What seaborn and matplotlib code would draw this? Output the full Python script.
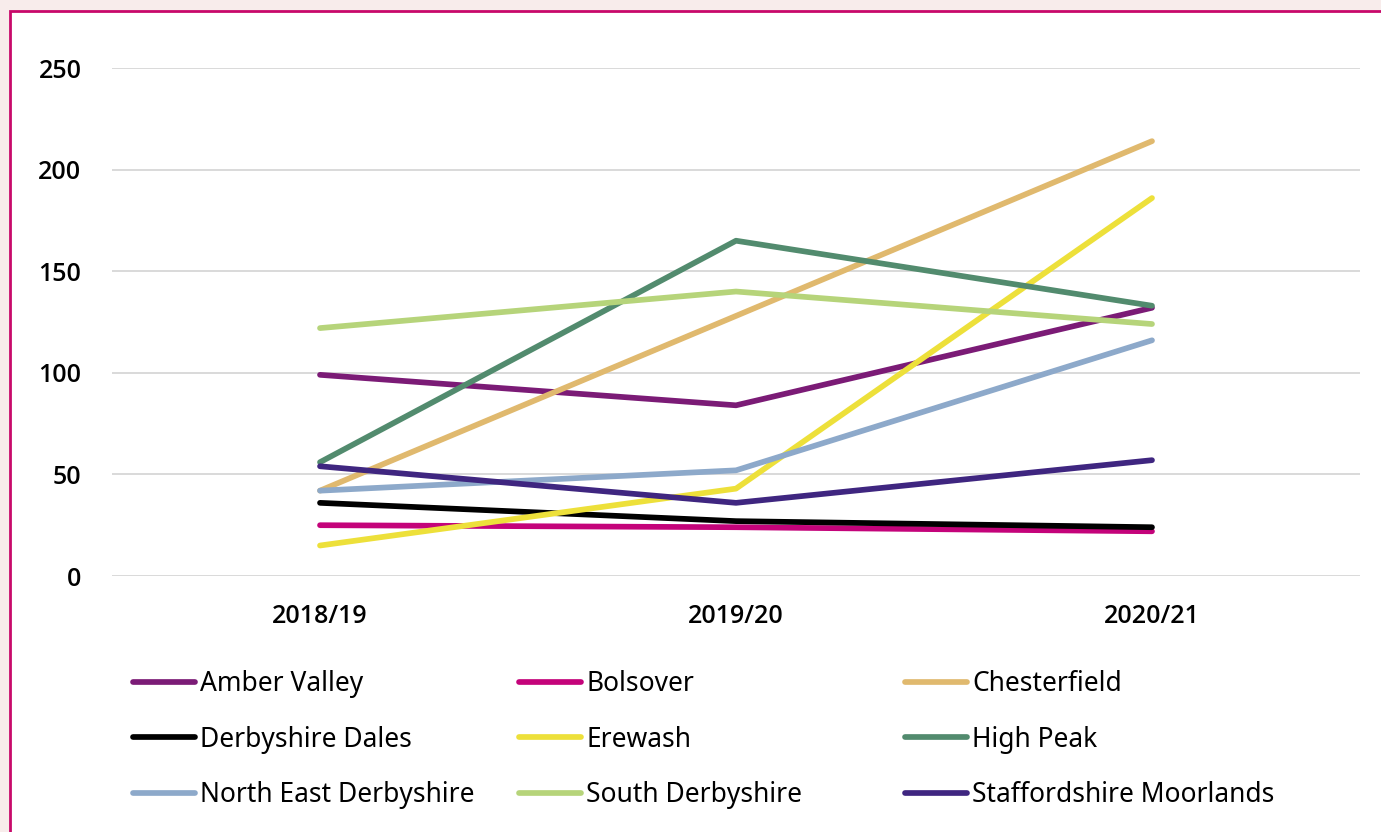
import matplotlib
matplotlib.use("Agg")
import matplotlib.pyplot as plt
import matplotlib.patches as mpatches
import seaborn as sns
import pandas as pd

# data
years = ["2018/19", "2019/20", "2020/21"]
areas = ["Amber Valley", "Bolsover", "Chesterfield",
         "Derbyshire Dales", "Erewash", "High Peak",
         "North East Derbyshire", "South Derbyshire", "Staffordshire Moorlands"]
y_ticks = [0, 50, 100, 150, 200, 250]
amber_valley = [99, 84, 132]
bolsover = [25, 24, 22]
chesterfield = [42, 128, 214]
derbyshire_dales = [36, 27, 24]
erewash = [15, 43, 186]
high_peak = [56, 165, 133]
north_east_derbyshire = [42, 52, 116]
south_derbyshire = [122, 140, 124]
staffordshire_moorlands = [54, 36, 57]
series = [amber_valley, bolsover, chesterfield, derbyshire_dales, erewash,
          high_peak, north_east_derbyshire, south_derbyshire, staffordshire_moorlands]
colors = ["#7B1B76", "#C4037A", "#E0B96E", "#000000", "#EDE03A",
          "#528B6E", "#8DA9CA", "#B6D47A", "#3F2680"]

rows = []
for area, vals in zip(areas, series):
    for yr, v in zip(years, vals):
        rows.append({"Year": yr, "Value": v, "Area": area})
df = pd.DataFrame(rows)

sns.set_theme(style="white")
plt.rcParams["font.family"] = ["Noto Sans", "DejaVu Sans"]
plt.rcParams["text.color"] = "black"

W, H = 1381, 832
fig = plt.figure(figsize=(W / 100, H / 100), dpi=100, facecolor="#F8ECEB")

# white panel with crimson border, running off the right/bottom edge
panel = mpatches.Rectangle((10 / W, 0 - 0.05), 1.1, 1 - 11 / H + 0.05,
                           transform=fig.transFigure, facecolor="white",
                           edgecolor="#C8096A", linewidth=2, zorder=-1)
fig.patches.append(panel)

ax = fig.add_axes([112 / W, 1 - 576 / H, (1360 - 112) / W, (576 - 68) / H])
ax.set_facecolor("none")

sns.lineplot(data=df, x="Year", y="Value", hue="Area", hue_order=areas,
             palette=dict(zip(areas, colors)), linewidth=4.1, sort=False,
             solid_capstyle="round", ax=ax, legend=False)

ax.set_xlim(-0.5, 2.5)
ax.set_ylim(0, 250)
tick_font = dict(family=["Open Sans", "Noto Sans", "DejaVu Sans"],
                 weight="semibold", size=18)
ax.set_yticks(y_ticks, [str(v) for v in y_ticks], fontdict=tick_font)
ax.set_xticks(range(len(years)), years, fontdict=tick_font)
ax.yaxis.grid(True, color="#D9D9D9", linewidth=1.4)
ax.xaxis.grid(False)
ax.set_axisbelow(True)
for s in ax.spines.values():
    s.set_visible(False)
ax.set_xlabel("")
ax.set_ylabel("")
ax.tick_params(axis="y", length=0, pad=22, labelcolor="black")
ax.tick_params(axis="x", length=0, pad=20, labelcolor="black")
for line in ax.get_lines():
    line.set_clip_on(False)

# legend: three fixed-width columns
handles = ax.get_lines()[:len(areas)]
col_x = [133, 519, 905]
for c in range(3):
    idx = [c, c + 3, c + 6]
    fig.legend([handles[i] for i in idx], [areas[i] for i in idx],
               loc="upper left", bbox_to_anchor=(col_x[c] / W, 1 - 670 / H),
               frameon=False, fontsize=19, handlelength=2.35, handletextpad=0.2,
               labelspacing=1.05, borderpad=0, borderaxespad=0,
               labelcolor="black")

fig.savefig("out.png", dpi=100, facecolor=fig.get_facecolor())
